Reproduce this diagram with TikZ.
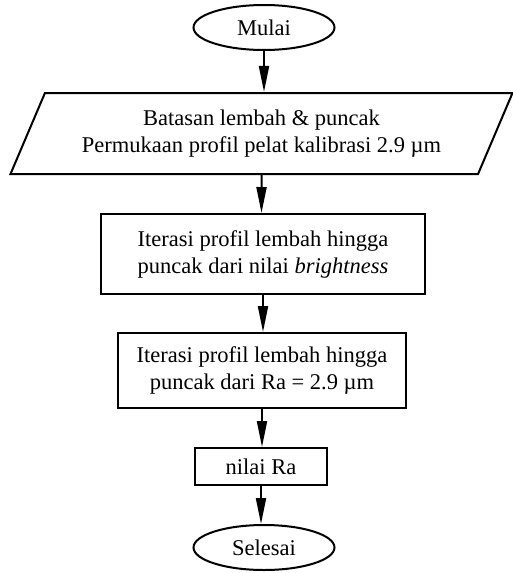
\documentclass[tikz,border=0pt]{standalone}
\usepackage{fontspec}
\setmainfont{Liberation Serif}
\usetikzlibrary{shapes.geometric,arrows.meta}
\begin{document}
\begin{tikzpicture}[x=1pt,y=-1pt,>={Triangle[length=26pt,width=10pt]},line width=2pt,
  font=\fontsize{22.5}{27}\selectfont,
  terminal/.style={ellipse,draw,minimum width=141pt,minimum height=45pt,inner sep=0pt},
  proses/.style={rectangle,draw,align=center,inner sep=0pt},
  data/.style={trapezium,draw,align=center,trapezium left angle=54,trapezium right angle=126,
    trapezium stretches body=true,minimum width=502pt,minimum height=81pt,inner sep=0pt}]
\useasboundingbox (0,0) rectangle (513,573);
\node[terminal] (mulai) at (264,27.5) {Mulai};
\node[data] (input) at (261.5,133.5) {Batasan lembah \& puncak\\Permukaan profil pelat kalibrasi 2.9 µm};
\node[proses,minimum width=324pt,minimum height=80pt] (iter1) at (263,254) {Iterasi profil lembah hingga\\puncak dari nilai \textit{brightness}};
\node[proses,minimum width=288pt,minimum height=75pt] (iter2) at (262,370.5) {Iterasi profil lembah hingga\\puncak dari Ra = 2.9 µm};
\node[proses,minimum width=132pt,minimum height=37pt] (hasil) at (261,466.5) {nilai Ra};
\node[terminal] (selesai) at (264,547.5) {Selesai};
% alur
\foreach \a/\b in {mulai/input, input/iter1, iter1/iter2, iter2/hasil, hasil/selesai}
\draw[->] (\a) -- (\a |- \b.north);
\end{tikzpicture}
\end{document}
